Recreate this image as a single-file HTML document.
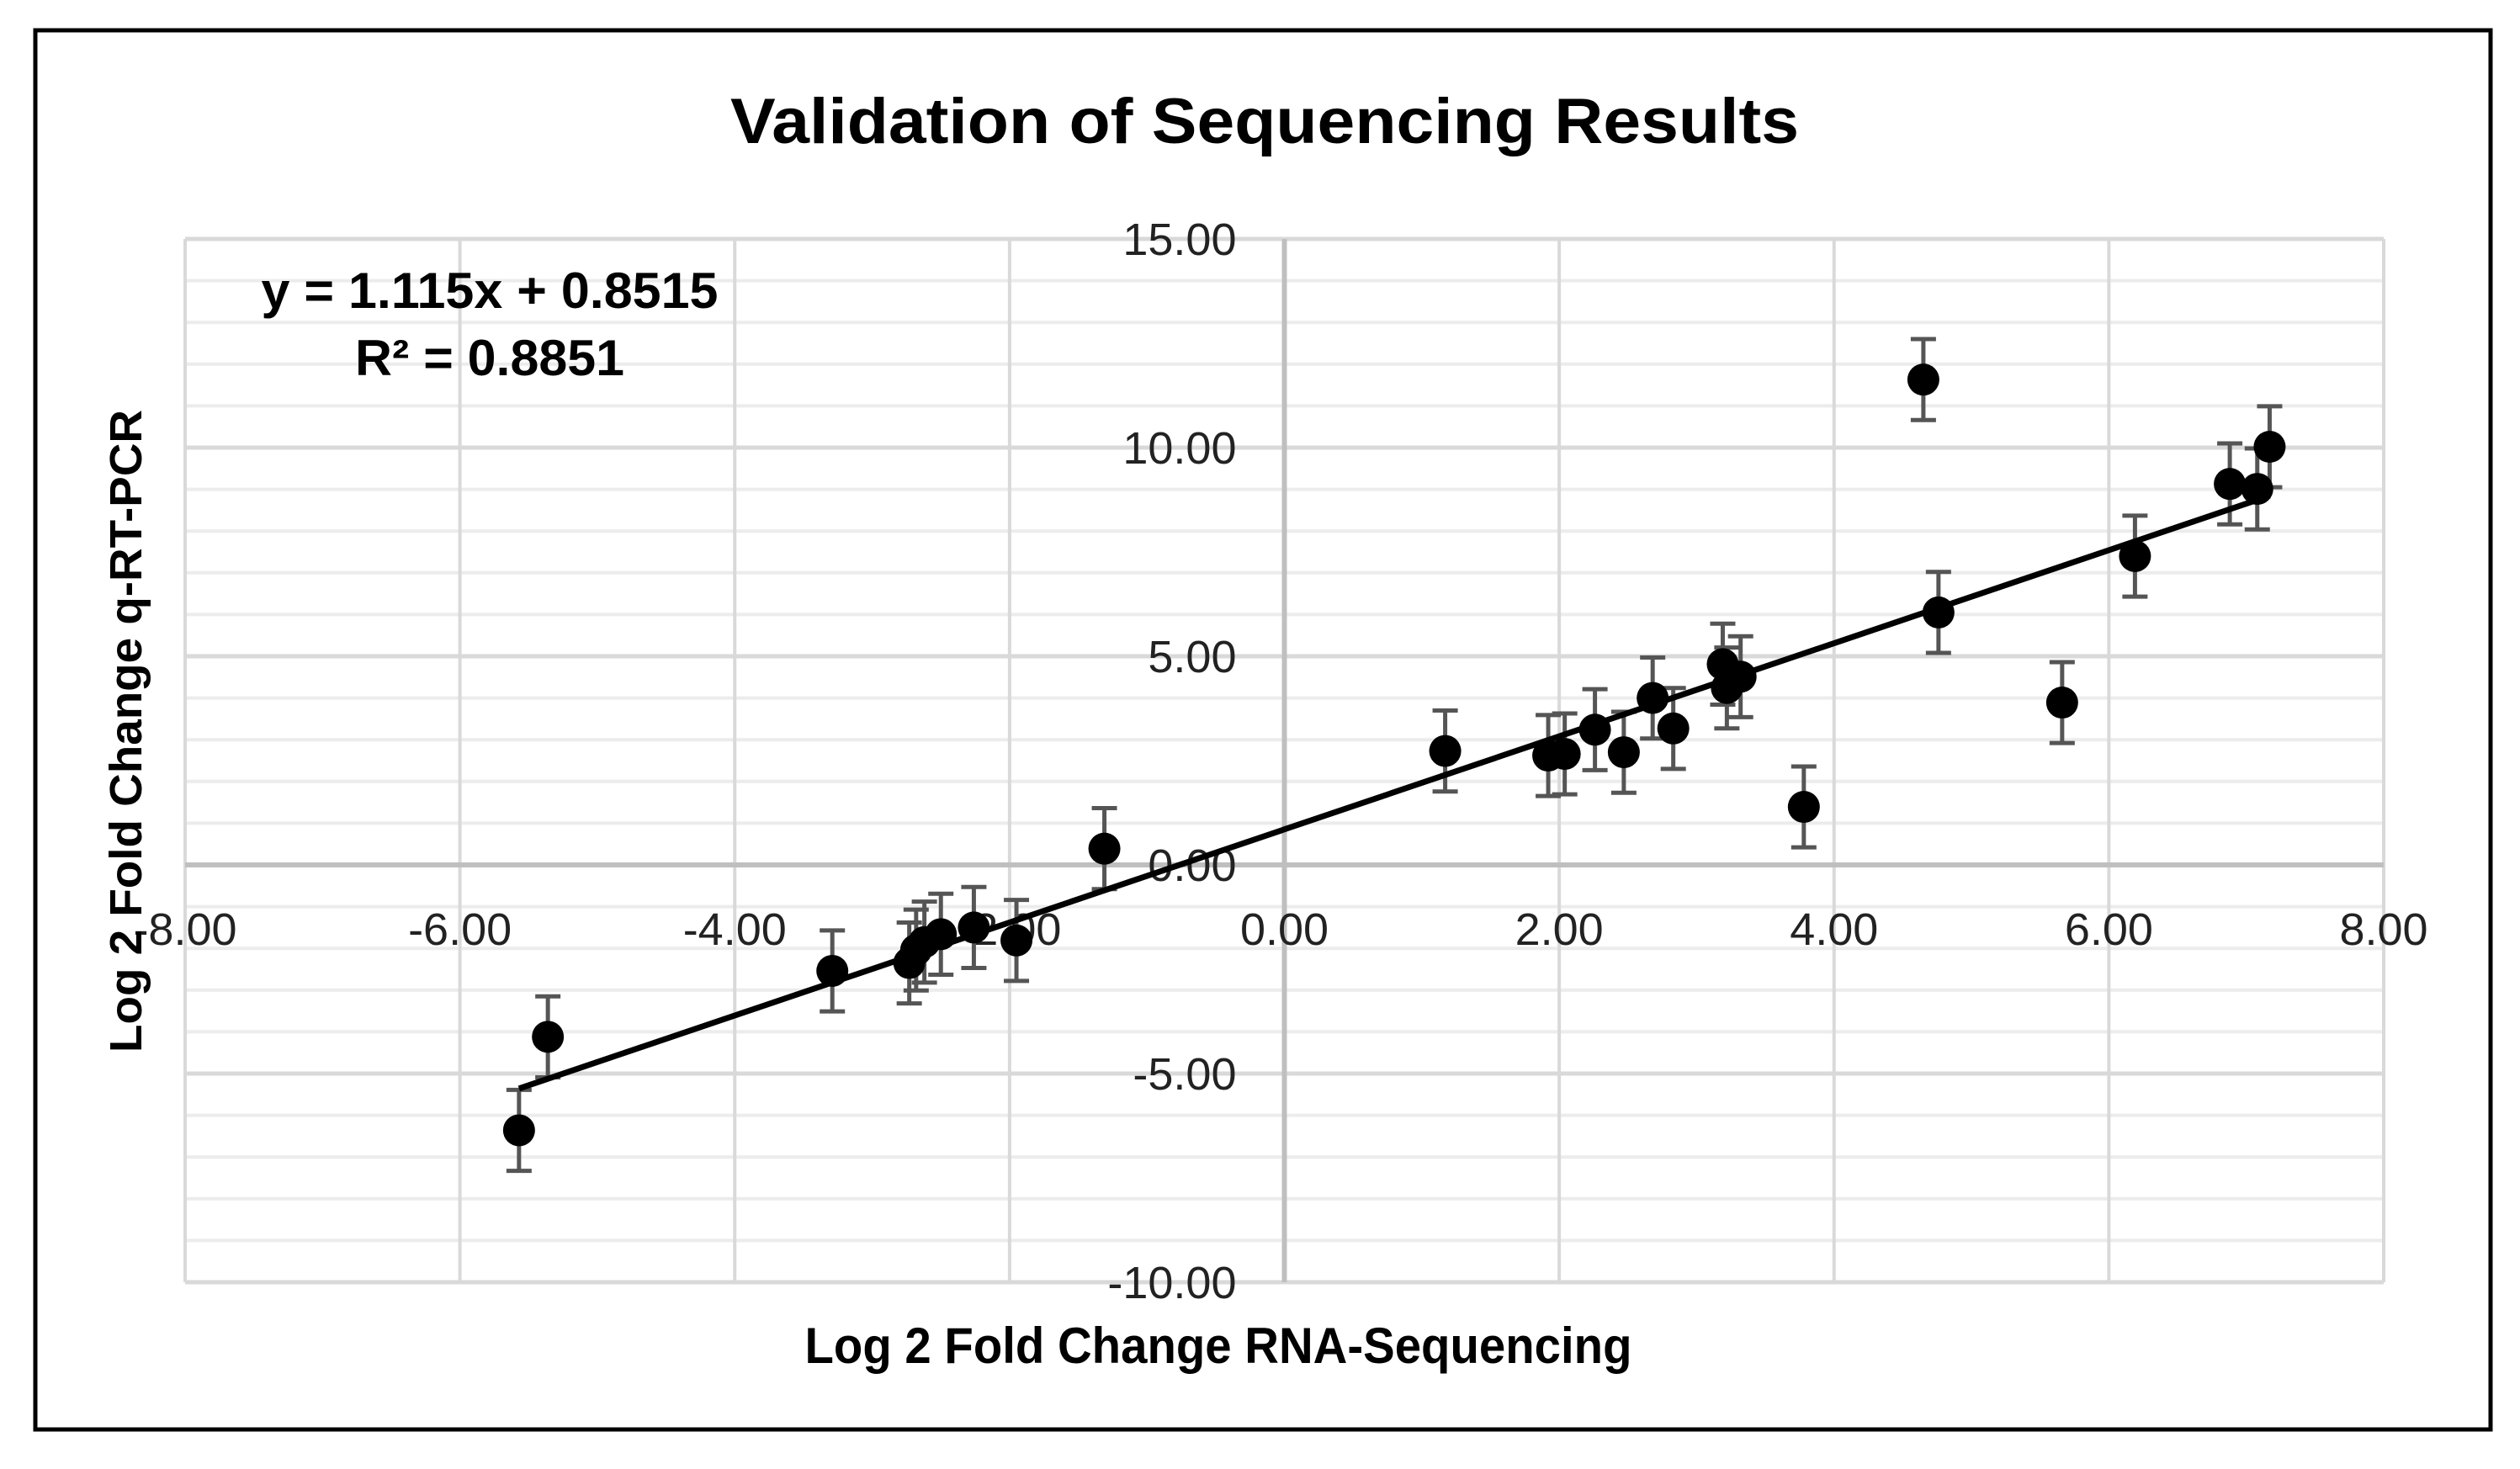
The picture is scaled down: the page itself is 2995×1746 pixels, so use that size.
<!DOCTYPE html>
<html><head><meta charset="utf-8"><style>
html,body{margin:0;padding:0;background:#fff;width:2995px;height:1746px;overflow:hidden}
svg{display:block}
text{font-family:"Liberation Sans Narrow","Liberation Sans",sans-serif}
</style></head><body>
<svg id="chart" width="2995" height="1746" viewBox="0 0 2995 1746" xmlns="http://www.w3.org/2000/svg">
<rect x="42" y="36" width="2918" height="1663" fill="#fff" stroke="#000" stroke-width="5"/>
<text x="1503" y="170" text-anchor="middle" font-size="76" font-weight="bold" textLength="1270" lengthAdjust="spacingAndGlyphs">Validation of Sequencing Results</text>
<g id="grid"></g>
<g id="ticks"></g>
<g id="marks"></g>
<text x="582" y="366" text-anchor="middle" font-size="60" font-weight="bold" textLength="543" lengthAdjust="spacingAndGlyphs">y = 1.115x + 0.8515</text>
<text x="582" y="446" text-anchor="middle" font-size="60" font-weight="bold" textLength="320" lengthAdjust="spacingAndGlyphs">R² = 0.8851</text>
<text x="1448" y="1620" text-anchor="middle" font-size="60" font-weight="bold" textLength="983" lengthAdjust="spacingAndGlyphs">Log 2 Fold Change RNA-Sequencing</text>
<text transform="translate(168,869) rotate(-90)" text-anchor="middle" font-size="54" font-weight="bold" font-family="Liberation Sans, sans-serif" textLength="764" lengthAdjust="spacingAndGlyphs">Log 2 Fold Change q-RT-PCR</text>
</svg>
<script>
const xVals=[-5.57,-5.36,-3.29,-2.73,-2.68,-2.62,-2.50,-2.26,-1.95,-1.31,1.17,1.92,2.04,2.26,2.47,2.68,2.83,3.19,3.22,3.32,3.78,4.65,4.76,5.66,6.19,6.88,7.08,7.17];
const yVals=[-6.36,-4.12,-2.54,-2.35,-2.04,-1.85,-1.66,-1.50,-1.81,0.39,2.73,2.62,2.66,3.24,2.70,4.00,3.27,4.81,4.24,4.51,1.39,11.63,6.05,3.89,7.40,9.13,9.01,10.02];
const errVals=[0.97,0.97,0.97,0.97,0.97,0.97,0.97,0.97,0.97,0.97,0.97,0.97,0.97,0.97,0.97,0.97,0.97,0.97,0.97,0.97,0.97,0.97,0.97,0.97,0.97,0.97,0.97,0.97];
const xTicks=[-8,-6,-4,-2,0,2,4,6,8];
const yTicks=[-10,-5,0,5,10,15];
const slope=1.115, intercept=0.8515;
const L=220,R=2833,T=284,B=1524;
const xMin=-8,xMax=8,yMin=-10,yMax=15;
const sx=v=>L+(v-xMin)/(xMax-xMin)*(R-L);
const sy=v=>B-(v-yMin)/(yMax-yMin)*(B-T);
const NS='http://www.w3.org/2000/svg';
function mk(tag,attrs,parent){const e=document.createElementNS(NS,tag);for(const k in attrs)e.setAttribute(k,attrs[k]);parent.appendChild(e);return e;}
const grid=document.getElementById('grid'),ticks=document.getElementById('ticks'),marks=document.getElementById('marks');
for(let v=yMin;v<=yMax;v++){
  const ln=mk('line',{x1:L,x2:R,y1:sy(v),y2:sy(v),stroke:v%5===0?'#d9d9d9':'#ececec','stroke-width':v%5===0?5:4},grid);
  
  
}
xTicks.forEach(v=>{
  const ln=mk('line',{x1:sx(v),x2:sx(v),y1:T,y2:B,stroke:'#d9d9d9','stroke-width':4},grid);
  
  
});
const ax=mk('line',{x1:sx(0),x2:sx(0),y1:T,y2:B,stroke:'#bfbfbf','stroke-width':6},grid);


const ay=mk('line',{x1:L,x2:R,y1:sy(0),y2:sy(0),stroke:'#bfbfbf','stroke-width':6},grid);


yTicks.forEach(v=>{
  const t=mk('text',{x:sx(0)-57,y:sy(v)+19,'text-anchor':'end','font-size':54,fill:'#222'},ticks);
  t.textContent=v.toFixed(2);
  
  
});
xTicks.forEach(v=>{
  const t=mk('text',{x:sx(v),y:sy(0)+95,'text-anchor':'middle','font-size':54,fill:'#222'},ticks);
  t.textContent=v.toFixed(2);
  
  
});
xVals.forEach((x,i)=>{
  const y=yVals[i],e=errVals[i],cx=sx(x);
  const g=mk('g',{stroke:'#555','stroke-width':5},marks);
  
  
  mk('line',{x1:cx,x2:cx,y1:sy(y+e),y2:sy(y-e)},g);
  mk('line',{x1:cx-15,x2:cx+15,y1:sy(y+e),y2:sy(y+e)},g);
  mk('line',{x1:cx-15,x2:cx+15,y1:sy(y-e),y2:sy(y-e)},g);
});
const xs=Math.min(...xVals),xe=Math.max(...xVals);
const tl=mk('line',{x1:sx(xs),y1:sy(slope*xs+intercept),x2:sx(xe),y2:sy(slope*xe+intercept),stroke:'#000','stroke-width':7},marks);


xVals.forEach((x,i)=>{
  const c=mk('circle',{cx:sx(x),cy:sy(yVals[i]),r:19,fill:'#000'},marks);
  
  
});
</script>
</body></html>
